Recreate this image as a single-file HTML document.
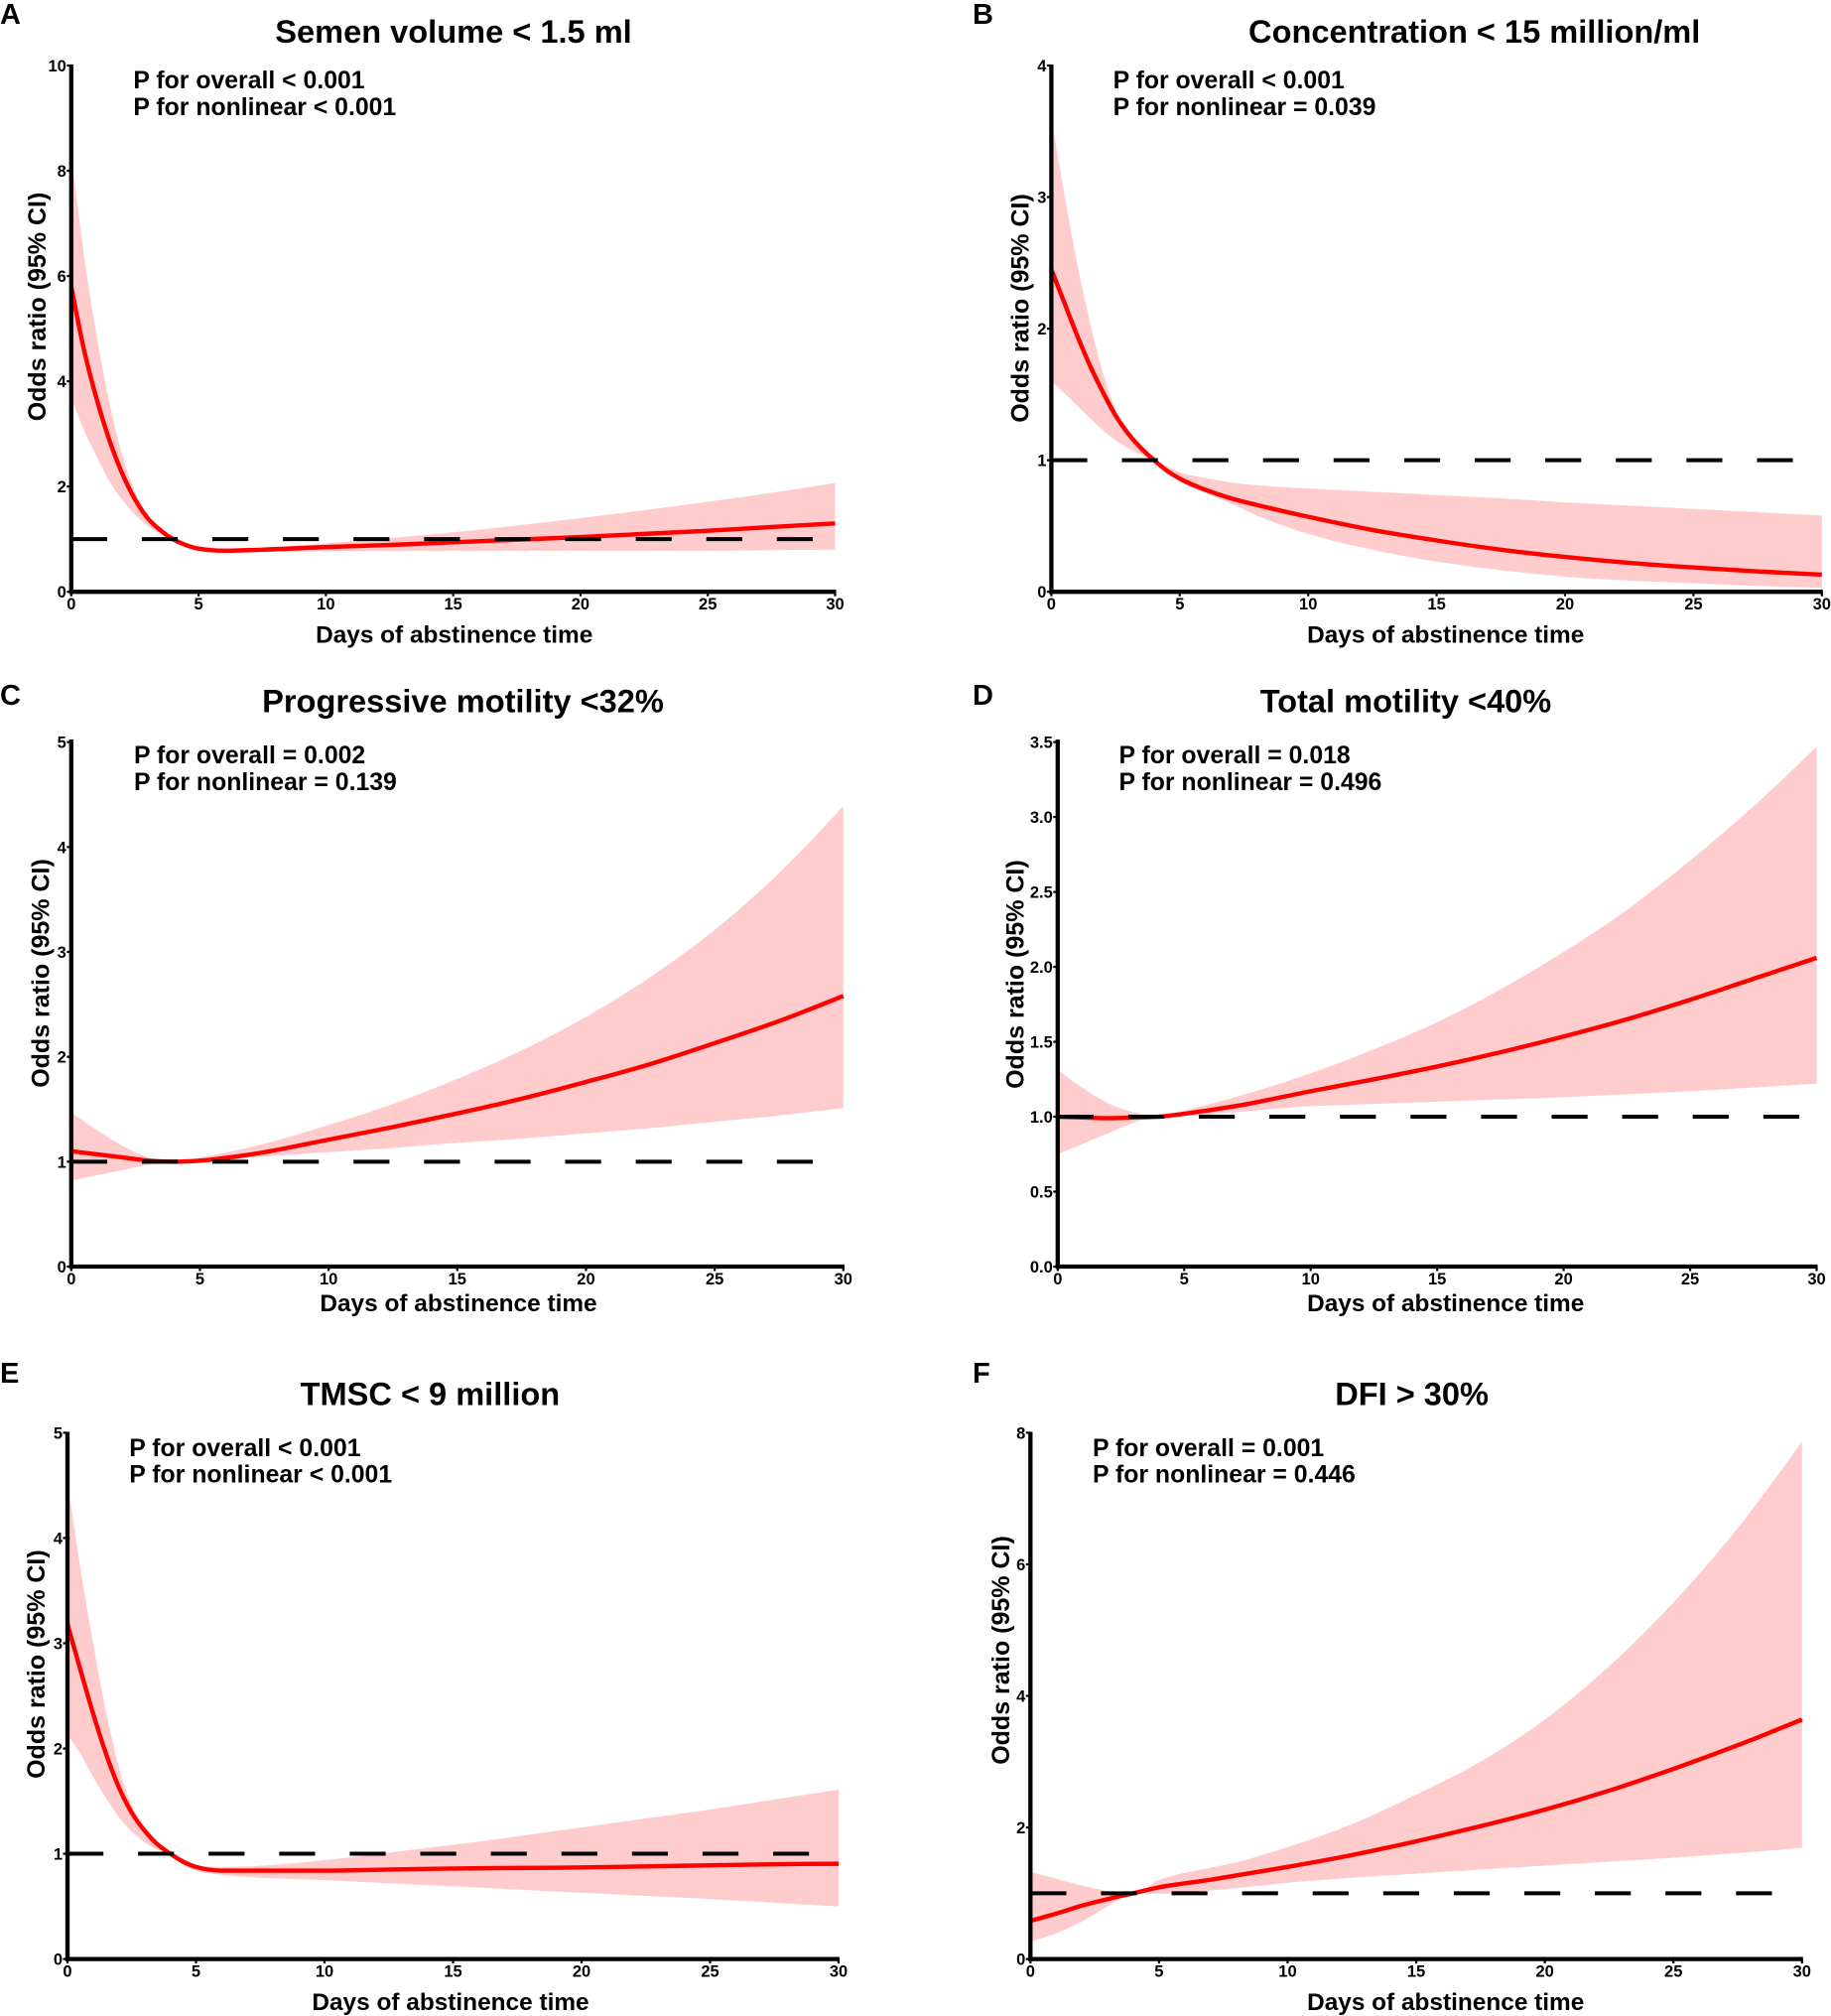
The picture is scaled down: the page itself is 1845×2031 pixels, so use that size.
<!DOCTYPE html>
<html lang="en">
<head>
<meta charset="utf-8">
<title>Odds ratio by days of abstinence time</title>
<style>
html,body{margin:0;padding:0;background:#fff;}
svg{display:block;}
text{font-family:"Liberation Sans",Arial,sans-serif;font-weight:bold;fill:#000;}
.letter{font-size:29px;}
.title{font-size:32.6px;text-anchor:middle;}
.pval{font-size:24.8px;}
.xlab{font-size:24.4px;text-anchor:middle;}
.ylab{font-size:25px;text-anchor:middle;}
.tick{font-size:16.5px;}
</style>
</head>
<body>
<svg id="figure" width="1845" height="2031" viewBox="0 0 1845 2031" xmlns="http://www.w3.org/2000/svg">
  <g id="panel-a">
    <text class="letter" x="0" y="24">A</text>
    <text class="title" x="457" y="43">Semen volume &lt; 1.5 ml</text>
    <text class="pval" x="134.4" y="89">P for overall &lt; 0.001</text>
    <text class="pval" x="134.4" y="116">P for nonlinear &lt; 0.001</text>
    <text class="xlab" x="457.7" y="647.5">Days of abstinence time</text>
    <text class="ylab" transform="translate(46,309) rotate(-90)">Odds ratio (95% CI)</text>
  </g>
  <g id="panel-b">
    <text class="letter" x="980" y="24">B</text>
    <text class="title" x="1485.7" y="43">Concentration &lt; 15 million/ml</text>
    <text class="pval" x="1121.6" y="89">P for overall &lt; 0.001</text>
    <text class="pval" x="1121.6" y="116">P for nonlinear = 0.039</text>
    <text class="xlab" x="1456.7" y="647.5">Days of abstinence time</text>
    <text class="ylab" transform="translate(1036.5,310.5) rotate(-90)">Odds ratio (95% CI)</text>
  </g>
  <g id="panel-c">
    <text class="letter" x="0" y="710">C</text>
    <text class="title" x="466.5" y="717.5">Progressive motility &lt;32%</text>
    <text class="pval" x="135" y="769">P for overall = 0.002</text>
    <text class="pval" x="135" y="796">P for nonlinear = 0.139</text>
    <text class="xlab" x="462" y="1321">Days of abstinence time</text>
    <text class="ylab" transform="translate(49.5,980.5) rotate(-90)">Odds ratio (95% CI)</text>
  </g>
  <g id="panel-d">
    <text class="letter" x="980" y="710">D</text>
    <text class="title" x="1416.5" y="717.5">Total motility &lt;40%</text>
    <text class="pval" x="1127.5" y="769">P for overall = 0.018</text>
    <text class="pval" x="1127.5" y="796">P for nonlinear = 0.496</text>
    <text class="xlab" x="1456.7" y="1321">Days of abstinence time</text>
    <text class="ylab" transform="translate(1031.3,981.6) rotate(-90)">Odds ratio (95% CI)</text>
  </g>
  <g id="panel-e">
    <text class="letter" x="0" y="1393">E</text>
    <text class="title" x="433.4" y="1415.6">TMSC &lt; 9 million</text>
    <text class="pval" x="130.3" y="1467">P for overall &lt; 0.001</text>
    <text class="pval" x="130.3" y="1493.5">P for nonlinear &lt; 0.001</text>
    <text class="xlab" x="454" y="2025">Days of abstinence time</text>
    <text class="ylab" transform="translate(45,1676.6) rotate(-90)">Odds ratio (95% CI)</text>
  </g>
  <g id="panel-f">
    <text class="letter" x="980" y="1393">F</text>
    <text class="title" x="1422.6" y="1415.6">DFI &gt; 30%</text>
    <text class="pval" x="1101" y="1467">P for overall = 0.001</text>
    <text class="pval" x="1101" y="1493.5">P for nonlinear = 0.446</text>
    <text class="xlab" x="1456.7" y="2025">Days of abstinence time</text>
    <text class="ylab" transform="translate(1017,1662.5) rotate(-90)">Odds ratio (95% CI)</text>
  </g>
</svg>
<script>
// ---------- shared tick labels ----------
const xTickLabels = [0, 5, 10, 15, 20, 25, 30];
const yTicksA = ["0", "2", "4", "6", "8", "10"];
const yTicksB = ["0", "1", "2", "3", "4"];
const yTicksC = ["0", "1", "2", "3", "4", "5"];
const yTicksD = ["0.0", "0.5", "1.0", "1.5", "2.0", "2.5", "3.0", "3.5"];
const yTicksE = ["0", "1", "2", "3", "4", "5"];
const yTicksF = ["0", "2", "4", "6", "8"];
const referenceValue = 1;

// ---------- panel A ----------
const daysA  = [0, 0.5, 1, 1.5, 2, 2.5, 3, 3.5, 4, 4.5, 5, 6, 8, 10, 12.5, 15, 17.5, 20, 22.5, 25, 27.5, 30];
const meanA  = [5.8, 4.6, 3.66, 2.88, 2.25, 1.76, 1.4, 1.17, 1, 0.89, 0.82, 0.78, 0.81, 0.85, 0.89, 0.94, 0.99, 1.04, 1.1, 1.16, 1.23, 1.3];
const upperA = [8.3, 6.4, 4.85, 3.6, 2.6, 1.9, 1.44, 1.18, 1, 0.91, 0.86, 0.82, 0.85, 0.92, 1.02, 1.13, 1.26, 1.4, 1.55, 1.71, 1.88, 2.07];
const lowerA = [3.7, 3.07, 2.57, 2.1, 1.75, 1.47, 1.25, 1.1, 1, 0.88, 0.8, 0.76, 0.76, 0.77, 0.775, 0.78, 0.78, 0.78, 0.78, 0.78, 0.79, 0.8];

// ---------- panel B ----------
const daysB  = [0, 0.5, 1, 1.5, 2, 2.5, 3, 3.5, 4, 4.5, 5, 6, 7, 8, 10, 12.5, 15, 17.5, 20, 22.5, 25, 27.5, 30];
const meanB  = [2.45, 2.2, 1.95, 1.72, 1.52, 1.34, 1.2, 1.09, 1, 0.92, 0.86, 0.775, 0.71, 0.66, 0.57, 0.47, 0.39, 0.32, 0.265, 0.22, 0.185, 0.155, 0.13];
const upperB = [3.6, 3.03, 2.5, 2.05, 1.67, 1.38, 1.18, 1.07, 1, 0.955, 0.91, 0.865, 0.83, 0.81, 0.785, 0.76, 0.735, 0.71, 0.68, 0.655, 0.63, 0.605, 0.58];
const lowerB = [1.6, 1.51, 1.415, 1.32, 1.23, 1.15, 1.09, 1.04, 1, 0.91, 0.84, 0.75, 0.67, 0.58, 0.44, 0.32, 0.23, 0.165, 0.115, 0.085, 0.065, 0.045, 0.03];

// ---------- panel C ----------
const daysC  = [0, 1, 2, 3, 4, 5, 7, 10, 12.5, 15, 17.5, 20, 22.5, 25, 27.5, 30];
const meanC  = [1.1, 1.07, 1.04, 1.01, 1, 1.01, 1.07, 1.21, 1.33, 1.46, 1.6, 1.76, 1.93, 2.13, 2.34, 2.58];
const upperC = [1.47, 1.3, 1.15, 1.04, 1, 1.04, 1.14, 1.35, 1.55, 1.79, 2.06, 2.38, 2.76, 3.21, 3.75, 4.39];
const lowerC = [0.82, 0.87, 0.92, 0.97, 1, 1.01, 1.04, 1.09, 1.13, 1.18, 1.22, 1.27, 1.32, 1.38, 1.44, 1.51];

// ---------- panel D ----------
const daysD  = [0, 1, 2, 3, 4, 5, 7, 10, 12.5, 15, 17.5, 20, 22.5, 25, 27.5, 30];
const meanD  = [1, 0.995, 0.99, 0.995, 1, 1.02, 1.07, 1.17, 1.25, 1.335, 1.43, 1.535, 1.65, 1.78, 1.92, 2.06];
const upperD = [1.315, 1.19, 1.09, 1.03, 1, 1.04, 1.13, 1.29, 1.45, 1.63, 1.85, 2.1, 2.38, 2.71, 3.07, 3.47];
const lowerD = [0.75, 0.82, 0.89, 0.96, 1, 1.005, 1.03, 1.07, 1.085, 1.1, 1.115, 1.13, 1.15, 1.17, 1.195, 1.22];

// ---------- panel E ----------
const daysE  = [0, 0.5, 1, 1.5, 2, 2.5, 3, 3.5, 4, 4.5, 5, 6, 7, 10, 12.5, 15, 17.5, 20, 22.5, 25, 27.5, 30];
const meanE  = [3.18, 2.75, 2.33, 1.95, 1.63, 1.39, 1.22, 1.09, 1, 0.925, 0.875, 0.84, 0.84, 0.84, 0.85, 0.86, 0.865, 0.87, 0.88, 0.89, 0.9, 0.905];
const upperE = [4.53, 3.72, 3, 2.35, 1.82, 1.46, 1.24, 1.1, 1, 0.94, 0.89, 0.875, 0.88, 0.94, 1.01, 1.085, 1.165, 1.25, 1.335, 1.42, 1.515, 1.61];
const lowerE = [2.13, 1.95, 1.73, 1.53, 1.35, 1.21, 1.11, 1.04, 1, 0.89, 0.84, 0.8, 0.78, 0.75, 0.72, 0.69, 0.66, 0.63, 0.6, 0.57, 0.535, 0.5];

// ---------- panel F ----------
const daysF  = [0, 1, 2, 3, 4, 5, 6, 7, 8, 10, 12.5, 15, 17.5, 20, 22.5, 25, 27.5, 30];
const meanF  = [0.58, 0.69, 0.81, 0.91, 1, 1.09, 1.15, 1.205, 1.27, 1.4, 1.58, 1.79, 2.02, 2.27, 2.56, 2.89, 3.25, 3.64];
const upperF = [1.33, 1.22, 1.12, 1.035, 1, 1.2, 1.31, 1.385, 1.47, 1.7, 2.05, 2.5, 3, 3.64, 4.45, 5.42, 6.55, 7.87];
const lowerF = [0.27, 0.39, 0.57, 0.8, 1, 0.99, 1.015, 1.04, 1.08, 1.16, 1.235, 1.3, 1.36, 1.42, 1.48, 1.54, 1.61, 1.69];

// ---------- panel layout (pixels), separate from the data ----------
const layouts = [
  {key:'a', x0:71.8,   x1:841.5,  y0:596.2,  y1:66,     top:65,     days:daysA, mean:meanA, upper:upperA, lower:lowerA, ticks:yTicksA},
  {key:'b', x0:1059.4, x1:1835.8, y0:596.2,  y1:66,     top:65,     days:daysB, mean:meanB, upper:upperB, lower:lowerB, ticks:yTicksB},
  {key:'c', x0:71.8,   x1:849.8,  y0:1276,   y1:747.6,  top:745,    days:daysC, mean:meanC, upper:upperC, lower:lowerC, ticks:yTicksC},
  {key:'d', x0:1065.8, x1:1830.5, y0:1276,   y1:747.6,  top:745,    days:daysD, mean:meanD, upper:upperD, lower:lowerD, ticks:yTicksD},
  {key:'e', x0:68,     x1:845,    y0:1973.6, y1:1443.4, top:1442.5, days:daysE, mean:meanE, upper:upperE, lower:lowerE, ticks:yTicksE},
  {key:'f', x0:1038.3, x1:1815.8, y0:1973.6, y1:1443.4, top:1442.5, days:daysF, mean:meanF, upper:upperF, lower:lowerF, ticks:yTicksF}
];

const NS = 'http://www.w3.org/2000/svg';
function make(tag, attrs, parent) {
  const el = document.createElementNS(NS, tag);
  for (const k in attrs) el.setAttribute(k, attrs[k]);
  parent.appendChild(el);
  return el;
}

// Monotone cubic path through pixel points (no overshoot at the pinch at day 4)
function curve(xs, ys, lead) {
  const n = xs.length, h = [], s = [], m = new Array(n);
  for (let i = 0; i < n - 1; i++) { h[i] = xs[i+1] - xs[i]; s[i] = (ys[i+1] - ys[i]) / h[i]; }
  for (let i = 1; i < n - 1; i++) {
    const p = (s[i-1] * h[i] + s[i] * h[i-1]) / (h[i-1] + h[i]);
    m[i] = (Math.sign(s[i-1]) + Math.sign(s[i])) * Math.min(Math.abs(s[i-1]), Math.abs(s[i]), 0.5 * Math.abs(p));
  }
  m[0] = (3 * s[0] - m[1]) / 2;
  m[n-1] = (3 * s[n-2] - m[n-2]) / 2;
  let d = lead + xs[0].toFixed(2) + ' ' + ys[0].toFixed(2);
  for (let i = 0; i < n - 1; i++) {
    const t = h[i] / 3;
    d += ' C' + (xs[i] + t).toFixed(2) + ' ' + (ys[i] + m[i] * t).toFixed(2) + ' ' +
         (xs[i+1] - t).toFixed(2) + ' ' + (ys[i+1] - m[i+1] * t).toFixed(2) + ' ' +
         xs[i+1].toFixed(2) + ' ' + ys[i+1].toFixed(2);
  }
  return d;
}

function drawPanel(p) {
  const root = document.getElementById('panel-' + p.key);
  const yMax = parseFloat(p.ticks[p.ticks.length - 1]);
  const xMax = xTickLabels[xTickLabels.length - 1];
  const xScale = function (v) { return p.x0 + (p.x1 - p.x0) * v / xMax; };
  const yScale = function (v) { return p.y0 - (p.y0 - p.y1) * v / yMax; };
  const px = p.days.map(xScale);

  // confidence band
  const upY = p.upper.map(yScale);
  const loY = p.lower.map(yScale);
  const bandD = curve(px, upY, 'M') + ' ' + curve(px.slice().reverse(), loY.slice().reverse(), 'L') + ' Z';
  const band = make('path', {d: bandD, fill: '#fecccc', stroke: 'none'}, root);
  
  

  // fitted odds ratio line
  const line = make('path', {d: curve(px, p.mean.map(yScale), 'M'), fill: 'none', stroke: '#ff0000', 'stroke-width': 4.4}, root);
  
  

  // dashed reference line at OR = 1
  const ref = make('line', {x1: p.x0, x2: p.x0 + 748, y1: yScale(referenceValue), y2: yScale(referenceValue),
    stroke: '#000', 'stroke-width': 4, 'stroke-dasharray': '36.2 34.9'}, root);
  
  

  // y axis ticks and labels
  p.ticks.forEach(function (label) {
    const yy = yScale(parseFloat(label));
    const mark = make('line', {x1: p.x0 - 4.5, x2: p.x0, y1: yy, y2: yy, stroke: '#000', 'stroke-width': 2.2}, root);
    
    
    const t = make('text', {x: p.x0 - 5, y: yy + 6, 'text-anchor': 'end', 'class': 'tick'}, root);
    t.textContent = label;
    
    
  });

  // x axis ticks and labels
  xTickLabels.forEach(function (label) {
    const xx = xScale(label);
    const mark = make('line', {x1: xx, x2: xx, y1: p.y0, y2: p.y0 + 4.5, stroke: '#000', 'stroke-width': 2.2}, root);
    
    
    const t = make('text', {x: xx, y: p.y0 + 18, 'text-anchor': 'middle', 'class': 'tick'}, root);
    t.textContent = String(label);
    
    
  });

  // axes
  const yAxis = make('line', {x1: p.x0, x2: p.x0, y1: p.top, y2: p.y0 + 2.1, stroke: '#000', 'stroke-width': 4.3}, root);
  
  
  const xAxis = make('line', {x1: p.x0 - 2.1, x2: p.x1 + 1, y1: p.y0, y2: p.y0, stroke: '#000', 'stroke-width': 4.3}, root);
  
  
}

layouts.forEach(drawPanel);
</script>
</body>
</html>
